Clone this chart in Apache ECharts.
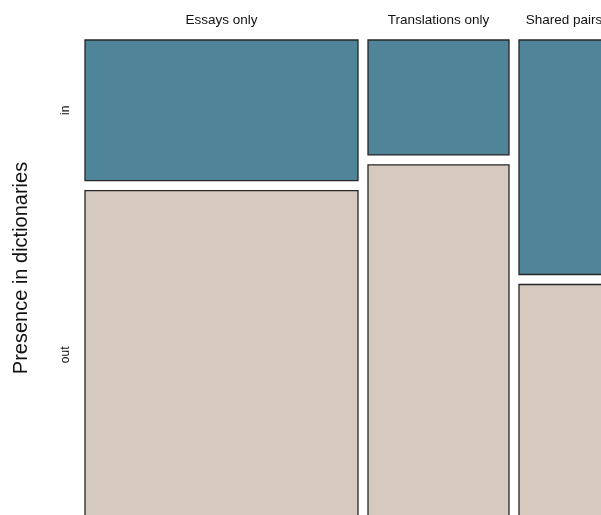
<!DOCTYPE html>
<html>
<head>
<meta charset="utf-8">
<script src="https://cdn.jsdelivr.net/npm/echarts@6/dist/echarts.min.js"></script>
<style>
html,body{margin:0;padding:0;background:#fff;overflow:hidden;width:601px;height:515px;}
#chart{width:630px;height:540px;}
</style>
</head>
<body>
<div id="chart"></div>
<script>
// Data
var categories = ['Essays only', 'Translations only', 'Shared pairs'];
var columnCounts = [273, 141, 90];          // relative column widths (totals per category)
var inShares = [0.30, 0.245, 0.50];         // share "in" dictionaries within each category
var rowLabels = ['in', 'out'];
var yTitle = 'Presence in dictionaries';

var total = columnCounts.reduce(function (a, b) { return a + b; }, 0);
var GAP = 10;
var FONT = 'Liberation Sans, Arial, Helvetica, sans-serif';
var BLUE = '#4f8499';
var BEIGE = '#d6cabe';
var EDGE = '#262626';

var seriesData = categories.map(function (c, i) {
  var cum = 0;
  for (var k = 0; k < i; k++) cum += columnCounts[k];
  return [i, cum, columnCounts[i], inShares[i]];
});

var chart = echarts.init(document.getElementById('chart'));
chart.setOption({
  animation: false,
  grid: { left: 85, top: 40, width: 524, height: 479, containLabel: false, outerBoundsMode: 'none' },
  xAxis: { type: 'value', min: 0, max: total, show: false },
  yAxis: { type: 'value', min: 0, max: 1, show: false },
  graphic: [{
    type: 'text',
    x: 21, y: 268,
    rotation: Math.PI / 2,
    style: { text: yTitle, font: '20px ' + FONT, fill: '#111', align: 'center', verticalAlign: 'middle' }
  }],
  series: [{
    type: 'custom',
    clip: false,
    data: seriesData,
    renderItem: function (params, api) {
      var i = api.value(0), cum = api.value(1), cnt = api.value(2), share = api.value(3);
      var p0 = api.coord([0, 1]);
      var p1 = api.coord([total, 0]);
      var left = p0[0], top = p0[1], W = p1[0] - left, H = p1[1] - top;
      var availW = W - GAP * (categories.length - 1);
      var availH = H - GAP;
      var x = left + cum / total * availW + i * GAP;
      var w = cnt / total * availW;
      var hIn = share * availH;
      var hOut = availH - hIn;
      var children = [
        { type: 'rect', shape: { x: x, y: top, width: w, height: hIn },
          style: { fill: BLUE, stroke: EDGE, lineWidth: 1.3 } },
        { type: 'rect', shape: { x: x, y: top + hIn + GAP, width: w, height: hOut },
          style: { fill: BEIGE, stroke: EDGE, lineWidth: 1.3 } },
        { type: 'text', x: x + w / 2, y: top - 20,
          style: { text: categories[i], font: '13.5px ' + FONT, fill: '#111', align: 'center', verticalAlign: 'middle' } }
      ];
      if (i === 0) {
        children.push({ type: 'text', x: 66, y: top + hIn / 2, rotation: Math.PI / 2,
          style: { text: rowLabels[0], font: '12px ' + FONT, fill: '#111', align: 'center', verticalAlign: 'middle' } });
        children.push({ type: 'text', x: 66, y: top + hIn + GAP + hOut / 2, rotation: Math.PI / 2,
          style: { text: rowLabels[1], font: '12px ' + FONT, fill: '#111', align: 'center', verticalAlign: 'middle' } });
      }
      return { type: 'group', children: children };
    }
  }]
});
</script>
</body>
</html>
